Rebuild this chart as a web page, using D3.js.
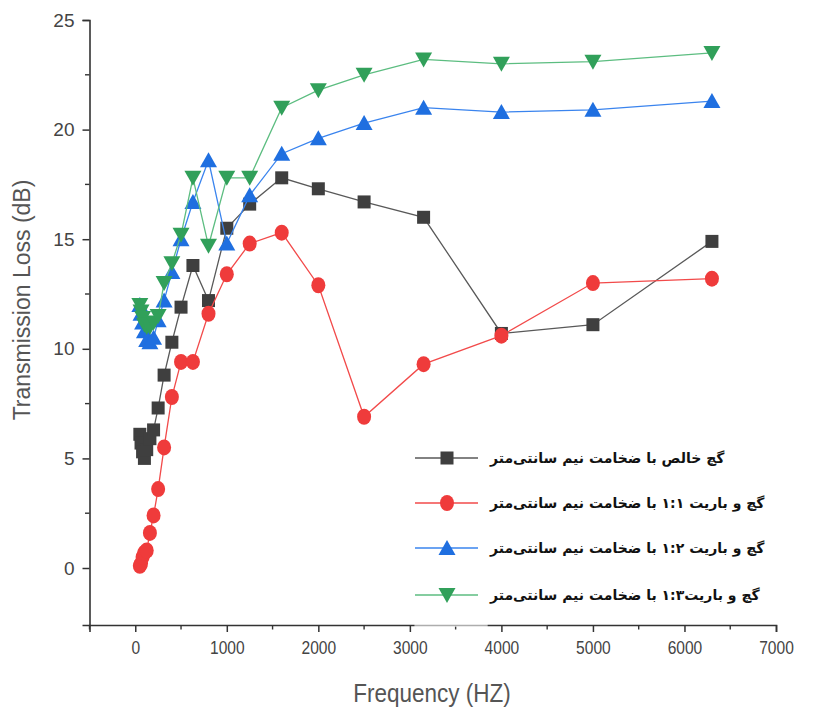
<!DOCTYPE html>
<html><head><meta charset="utf-8">
<script src="https://cdn.jsdelivr.net/npm/d3@7"></script>
<style>body{margin:0;background:#fff}svg{display:block}</style>
</head><body>
<svg id="c" width="840" height="718"></svg>
<script>
const freqs = [50,63,80,100,125,160,200,250,315,400,500,630,800,1000,1250,1600,2000,2500,3150,4000,5000,6300];
const pureGypsum = [6.1,5.7,5.3,5.0,5.4,5.9,6.3,7.3,8.8,10.3,11.9,13.8,12.2,15.5,16.6,17.8,17.3,16.7,16.0,10.7,11.1,14.9];
const barite11 = [0.1,0.2,0.5,0.7,0.8,1.6,2.4,3.6,5.5,7.8,9.4,9.4,11.6,13.4,14.8,15.3,12.9,6.9,9.3,10.6,13.0,13.2];
const barite12 = [12.0,11.6,11.2,10.8,10.4,10.3,10.5,11.3,12.2,13.5,15.0,16.7,18.6,14.8,17.0,18.9,19.6,20.3,21.0,20.8,20.9,21.3];
const barite13 = [12.0,11.7,11.4,11.1,11.0,11.0,11.2,11.5,13.0,13.9,15.2,17.8,14.7,17.8,17.8,21.0,21.8,22.5,23.2,23.0,23.1,23.5];
const seriesNames = [
  "گچ خالص با ضخامت نیم سانتی\u200cمتر",
  "گچ و باریت ۱:۱ با ضخامت نیم سانتی\u200cمتر",
  "گچ و باریت ۱:۲ با ضخامت نیم سانتی\u200cمتر",
  "گچ و باریت۱:۳ با ضخامت نیم سانتی\u200cمتر"
];
const xTicks = [0,1000,2000,3000,4000,5000,6000,7000];
const yTicks = [0,5,10,15,20,25];

const svg = d3.select("#c");
const x = d3.scaleLinear().domain([-500,7000]).range([89.5,776]);
const y = d3.scaleLinear().domain([-2.6,25]).range([625,20]);

const styles = [
  {line:"#595959", fill:"#3f3f3f", shape:"square"},
  {line:"#f24a4a", fill:"#ef3b3b", shape:"circle"},
  {line:"#3a84ee", fill:"#1f6fe0", shape:"up"},
  {line:"#5cbd80", fill:"#31a05a", shape:"down"}
];
const data = [pureGypsum, barite11, barite12, barite13];

function marker(g, shape, fill, cx, cy) {
  if (shape === "square") {
    g.append("rect").attr("x",cx-6.5).attr("y",cy-6.5).attr("width",13).attr("height",13).attr("fill",fill);
  } else if (shape === "circle") {
    g.append("ellipse").attr("cx",cx).attr("cy",cy).attr("rx",7).attr("ry",8).attr("fill",fill);
  } else if (shape === "up") {
    g.append("path").attr("d",`M${cx},${cy-8}L${cx+8.5},${cy+7}L${cx-8.5},${cy+7}Z`).attr("fill",fill);
  } else {
    g.append("path").attr("d",`M${cx},${cy+8}L${cx+8.5},${cy-7}L${cx-8.5},${cy-7}Z`).attr("fill",fill);
  }
}

// axes
const axisColor = "#333";
const yAxis = d3.axisLeft(y).tickValues(yTicks).tickSize(7).tickPadding(8).tickFormat(d3.format("d"));
const gy = svg.append("g").attr("transform","translate(89.5,0)").call(yAxis);
gy.select(".domain").attr("stroke",axisColor).attr("stroke-width",1.6);
gy.selectAll(".tick line").attr("stroke",axisColor).attr("stroke-width",1.5);
gy.selectAll(".tick text").attr("font-family","Liberation Sans, Arial, sans-serif").attr("font-size",19).attr("fill","#444");
const yMinor = [2.5,7.5,12.5,17.5,22.5];
svg.append("g").selectAll("line").data(yMinor).join("line")
  .attr("x1",85).attr("x2",89.5).attr("y1",d=>y(d)).attr("y2",d=>y(d)).attr("stroke",axisColor).attr("stroke-width",1.4);

const xAxis = d3.axisBottom(x).tickValues(xTicks).tickSize(7).tickPadding(9).tickFormat(d3.format("d"));
const gx = svg.append("g").attr("transform","translate(0,625)").call(xAxis);
gx.select(".domain").attr("stroke",axisColor).attr("stroke-width",1.6);
gx.selectAll(".tick line").attr("stroke",axisColor).attr("stroke-width",1.5);
gx.selectAll(".tick text").attr("font-family","Liberation Sans, Arial, sans-serif").attr("font-size",19).attr("fill","#444")
  .attr("transform","scale(0.82,1)");
const xMinor = d3.range(-500,7000,500).filter(v=>!xTicks.includes(v));
svg.append("g").selectAll("line").data(xMinor).join("line")
  .attr("x1",d=>x(d)).attr("x2",d=>x(d)).attr("y1",625).attr("y2",629.5).attr("stroke",axisColor).attr("stroke-width",1.4);
// faded axis segment behind legend area
svg.append("rect").attr("x",x(3050)).attr("y",622).attr("width",x(3850)-x(3050)).attr("height",5).attr("fill","#fff").attr("opacity",0.6);

// axis titles
svg.append("text").attr("transform","translate(30,300) rotate(-90)").attr("text-anchor","middle")
  .attr("font-family","Liberation Sans, Arial, sans-serif").attr("font-size",23).attr("fill","#555").text("Transmission Loss (dB)");
svg.append("text").attr("transform","translate(432,702) scale(0.9,1)").attr("text-anchor","middle")
  .attr("font-family","Liberation Sans, Arial, sans-serif").attr("font-size",25).attr("fill","#555").text("Frequency (HZ)");

// series
const line = d3.line().x((d,i)=>x(freqs[i])).y(d=>y(d));
data.forEach((vals,k)=>{
  const st = styles[k];
  const g = svg.append("g");
  g.append("path").attr("d",line(vals)).attr("fill","none").attr("stroke",st.line).attr("stroke-width",1.3);
  vals.forEach((v,i)=>marker(g, st.shape, st.fill, x(freqs[i]), y(v)));
});

// legend
const legY = [458,503,548,595];
const lg = svg.append("g");
seriesNames.forEach((name,k)=>{
  const st = styles[k];
  lg.append("line").attr("x1",415).attr("x2",478).attr("y1",legY[k]).attr("y2",legY[k]).attr("stroke",st.line).attr("stroke-width",1.3);
  marker(lg, st.shape, st.fill, 447, legY[k]);
  const t = lg.append("text").attr("x",0).attr("y",legY[k]+5)
    .attr("font-family","DejaVu Sans, sans-serif").attr("font-weight","bold").attr("font-size",14)
    .attr("direction","rtl").attr("fill","#111").text(name);
  const bb = t.node().getBBox();
  t.attr("x", 0 + (489 - bb.x));
});
</script>
</body></html>
